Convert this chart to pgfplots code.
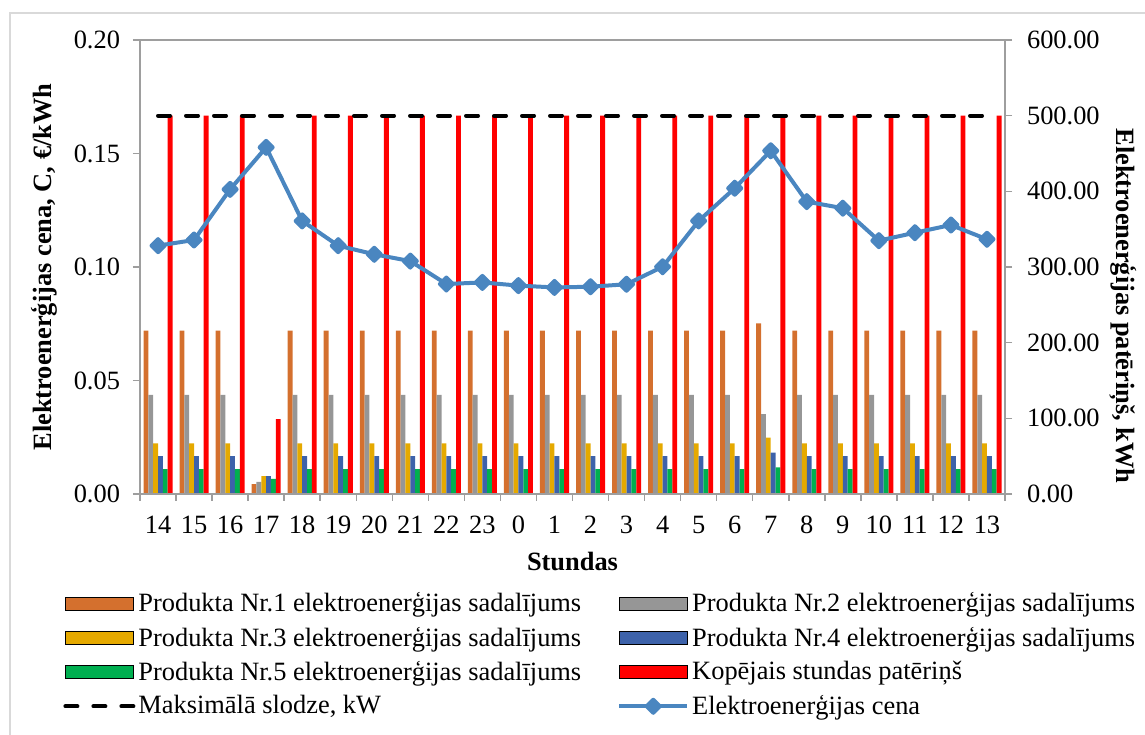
\documentclass[border=0pt]{standalone}
\usepackage{pgfplots}
\usepackage{pgfplotstable}
\pgfplotsset{compat=1.18}
\usepackage{fontspec}
\setmainfont{Liberation Serif}

\definecolor{prodA}{HTML}{D4702E}
\definecolor{prodB}{HTML}{969696}
\definecolor{prodC}{HTML}{E5A900}
\definecolor{prodD}{HTML}{3D62AA}
\definecolor{prodE}{HTML}{00AF50}
\definecolor{totalc}{HTML}{FF0000}
\definecolor{pricec}{HTML}{4A86C0}
\definecolor{axisgray}{HTML}{9E9E9E}
\definecolor{framegray}{HTML}{D9D9D9}

\newcommand{\chartfont}{\fontsize{13.2bp}{15bp}\selectfont}

\pgfplotsset{
  barlegend/.style={legend image code/.code={\fill[##1] (0bp,-3.25bp) rectangle (34bp,3.25bp);}},
  linelegend/.style={legend image code/.code={\draw[mark repeat=2,mark phase=2,##1] plot coordinates {(0bp,0bp) (17bp,0bp) (34bp,0bp)};}},
  hourbar/.style={ybar, bar width=2.42bp, draw=none, fill=#1},
}

% hourly consumption per product, kWh (index 0 = hour 14)
\pgfplotstableread{
idx p1    p2    p3   p4   p5   total maxload
0   216   131   67   50   33   500   500
1   216   131   67   50   33   500   500
2   216   131   67   50   33   500   500
3   13    16    23.5 23.5 20   99    500
4   216   131   67   50   33   500   500
5   216   131   67   50   33   500   500
6   216   131   67   50   33   500   500
7   216   131   67   50   33   500   500
8   216   131   67   50   33   500   500
9   216   131   67   50   33   500   500
10  216   131   67   50   33   500   500
11  216   131   67   50   33   500   500
12  216   131   67   50   33   500   500
13  216   131   67   50   33   500   500
14  216   131   67   50   33   500   500
15  216   131   67   50   33   500   500
16  216   131   67   50   33   500   500
17  225.6 105.7 74.4 54.6 35.2 500   500
18  216   131   67   50   33   500   500
19  216   131   67   50   33   500   500
20  216   131   67   50   33   500   500
21  216   131   67   50   33   500   500
22  216   131   67   50   33   500   500
23  216   131   67   50   33   500   500
}\hourdata

% electricity price, EUR/kWh
\pgfplotstableread{
idx price
0   0.1094
1   0.1119
2   0.1342
3   0.1527
4   0.1203
5   0.1094
6   0.1056
7   0.1026
8   0.0925
9   0.0932
10  0.0918
11  0.0910
12  0.0913
13  0.0924
14  0.1001
15  0.1203
16  0.1347
17  0.1512
18  0.1288
19  0.1259
20  0.1116
21  0.1151
22  0.1185
23  0.1122
}\pricedata

\begin{document}
\begin{tikzpicture}
\useasboundingbox (0,0) rectangle (572.5bp,367.5bp);
\draw[framegray, line width=0.75bp] (5bp,0bp) -- (5bp,361bp) -- (572.5bp,361bp);

% consumption (right axis)
\begin{axis}[
  at={(70bp,120.5bp)}, anchor=south west, scale only axis,
  width=432.5bp, height=227bp,
  xmin=-0.5, xmax=23.5, ymin=0, ymax=600,
  axis x line=none, axis y line*=right,
  axis line style={draw=axisgray, line width=0.75bp, -},
  ytick={0,100,200,300,400,500,600},
  tick align=outside, major tick length=3.5bp,
  every tick/.style={draw=axisgray, line width=0.75bp},
  /pgf/number format/assume math mode=true,
  yticklabel style={font=\chartfont, xshift=4bp, /pgf/number format/fixed, /pgf/number format/fixed zerofill, /pgf/number format/precision=2},
  ylabel={Elektroenerģijas patēriņš, kWh},
  ylabel style={font=\bfseries\chartfont, at={(axis description cs:1.1364,0.414)}, anchor=center, rotate=180},
  clip=false,
]
\addplot[hourbar=prodA, bar shift=-6.05bp] table[x=idx,y=p1] {\hourdata};
\addplot[hourbar=prodB, bar shift=-3.63bp] table[x=idx,y=p2] {\hourdata};
\addplot[hourbar=prodC, bar shift=-1.21bp] table[x=idx,y=p3] {\hourdata};
\addplot[hourbar=prodD, bar shift=1.21bp] table[x=idx,y=p4] {\hourdata};
\addplot[hourbar=prodE, bar shift=3.63bp] table[x=idx,y=p5] {\hourdata};
\addplot[hourbar=totalc, bar shift=6.05bp] table[x=idx,y=total] {\hourdata};
\addplot[black, line width=2bp, line cap=round, dash pattern=on 6bp off 8bp, no marks] table[x=idx,y=maxload] {\hourdata};
\end{axis}

% price (left axis)
\begin{axis}[
  at={(70bp,120.5bp)}, anchor=south west, scale only axis,
  width=432.5bp, height=227bp,
  xmin=-0.5, xmax=23.5, ymin=0, ymax=0.2,
  axis line style={draw=axisgray, line width=0.75bp},
  tick pos=left,
  tick align=outside, major tick length=3.5bp,
  every tick/.style={draw=axisgray, line width=0.75bp},
  xtick={-0.5,0.5,...,23.5}, xticklabels={,,},
  extra x ticks={0,1,...,23},
  extra x tick labels={14,15,16,17,18,19,20,21,22,23,0,1,2,3,4,5,6,7,8,9,10,11,12,13},
  extra x tick style={major tick length=0pt, xticklabel style={yshift=-7.5bp}},
  ytick={0,0.05,0.10,0.15,0.20},
  /pgf/number format/assume math mode=true,
  tick label style={font=\chartfont},
  yticklabel style={xshift=-3bp, /pgf/number format/fixed, /pgf/number format/fixed zerofill, /pgf/number format/precision=2},
  ylabel={Elektroenerģijas cena, C, €/kWh},
  ylabel style={font=\bfseries\chartfont, at={(axis description cs:-0.111,0.5)}, anchor=center},
  xlabel={Stundas},
  xlabel style={font=\bfseries\chartfont, at={(axis description cs:0.5,-0.1476)}, anchor=center},
  legend columns=2,
  legend cell align=left,
  legend style={at={(axis description cs:-0.089,-0.21)}, anchor=north west,
    draw=none, fill=none, inner sep=0pt, font=\chartfont,
    nodes={inner sep=1.5bp}, row sep=3bp,
    /tikz/column 2/.style={column sep=16.5bp}},
  clip=false,
]
\addlegendimage{barlegend, fill=prodA}
\addlegendentry{Produkta Nr.1 elektroenerģijas sadalījums}
\addlegendimage{barlegend, fill=prodB}
\addlegendentry{Produkta Nr.2 elektroenerģijas sadalījums}
\addlegendimage{barlegend, fill=prodC}
\addlegendentry{Produkta Nr.3 elektroenerģijas sadalījums}
\addlegendimage{barlegend, fill=prodD}
\addlegendentry{Produkta Nr.4 elektroenerģijas sadalījums}
\addlegendimage{barlegend, fill=prodE}
\addlegendentry{Produkta Nr.5 elektroenerģijas sadalījums}
\addlegendimage{barlegend, fill=totalc}
\addlegendentry{Kopējais stundas patēriņš}
\addlegendimage{linelegend, black, line width=2bp, line cap=round, dash pattern=on 6bp off 8bp}
\addlegendentry{Maksimālā slodze, kW}
\addplot[linelegend, color=pricec, line width=2bp, line join=round, mark=square*, mark size=2.3bp, mark options={rotate=45, solid}] table[x=idx,y=price] {\pricedata};
\addlegendentry{Elektroenerģijas cena}
\end{axis}
\end{tikzpicture}
\end{document}
